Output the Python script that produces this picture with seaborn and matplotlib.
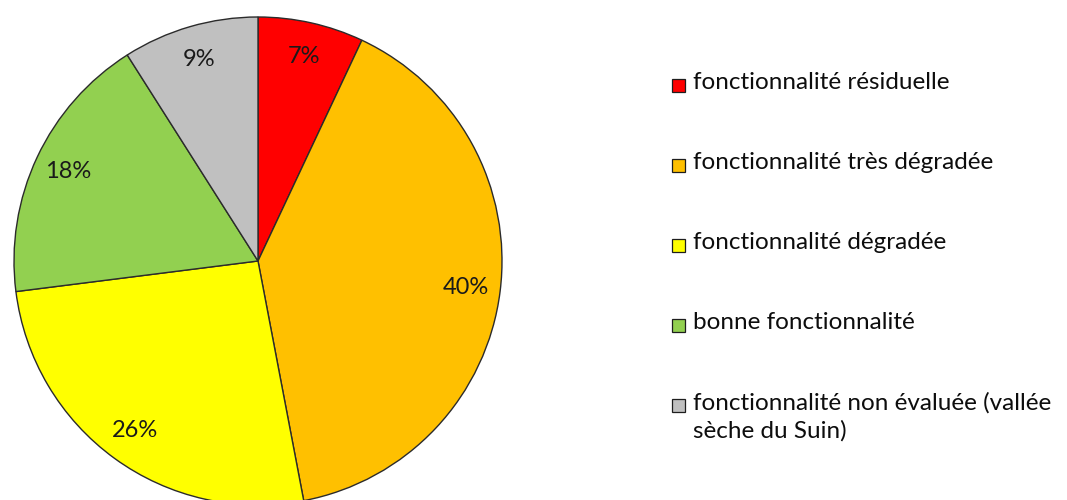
import matplotlib
matplotlib.use("Agg")
import matplotlib.pyplot as plt
from matplotlib.patches import Rectangle
import seaborn as sns

categories = [
    "fonctionnalité résiduelle",
    "fonctionnalité très dégradée",
    "fonctionnalité dégradée",
    "bonne fonctionnalité",
    "fonctionnalité non évaluée (vallée\nsèche du Suin)",
]
shares = [7, 40, 26, 18, 9]
colors = ["#FF0000", "#FFC000", "#FFFF00", "#92D050", "#C0C0C0"]

sns.set_theme(style="white")
plt.rcParams["font.family"] = ["Lato", "DejaVu Sans"]

W, H = 1067, 500
fig = plt.figure(figsize=(W / 100, H / 100), dpi=100)

# pie centre and radius in pixels
cx, cy, r = 258, 261, 244
ax = fig.add_axes([(cx - r) / W, (H - cy - r) / H, 2 * r / W, 2 * r / H])

palette = sns.color_palette(colors)
wedges, _, autotexts = ax.pie(
    shares,
    colors=palette,
    startangle=90,
    counterclock=False,
    autopct=lambda p: f"{p:.0f}%",
    pctdistance=0.86,
    wedgeprops=dict(edgecolor="#2b2b2b", linewidth=1.0),
    textprops=dict(fontsize=17, color="#1a1a1a"),
    radius=1.0,
)
ax.set_xlim(-1.0, 1.0)
ax.set_ylim(-1.0, 1.0)
ax.set_aspect("equal")
ax.axis("off")

# legend: one row every 80 px, square aligned with the first text line
leg_ax = fig.add_axes([0, 0, 1, 1])
leg_ax.set_xlim(0, W)
leg_ax.set_ylim(H, 0)
leg_ax.axis("off")
row0, pitch, sq = 85, 80, 13
for i, (label, col) in enumerate(zip(categories, palette)):
    yc = row0 + pitch * i
    leg_ax.add_patch(Rectangle((672, yc - sq / 2), sq, sq, facecolor=col,
                               edgecolor="#1e1e1e", linewidth=0.9))
    leg_ax.text(693, yc - 13, label, fontsize=17.5, color="#0d0d0d",
                va="top", ha="left", linespacing=1.4)

fig.savefig("out.png", dpi=100)
